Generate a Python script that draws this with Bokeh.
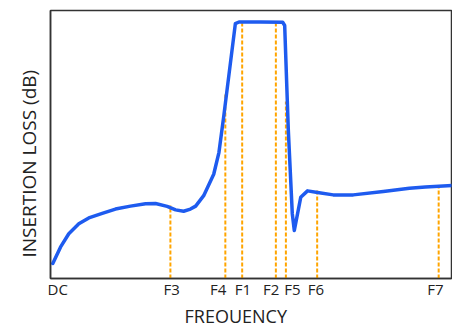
from bokeh.plotting import figure
from bokeh.models import Range1d, FixedTicker, Title
from bokeh.embed import file_html
from bokeh.resources import INLINE

# Insertion loss curve (frequency in arbitrary units 0-100, loss in arbitrary units 0-100)
freq = [0.57, 2.49, 4.56, 7.06, 9.55, 12.9, 16.2, 19.95, 23.7, 26.2, 29.1, 31.2,
        33.2, 34.9, 36.2, 38.2, 40.7, 42.0, 43.2, 46.1, 47.0, 52.4, 57.9, 58.4,
        59.3, 60.3, 60.8, 62.4, 64.1, 66.6, 70.5, 75.5, 83.0, 89.5, 93.5, 100.2]
loss = [5.6, 11.7, 16.7, 20.4, 22.6, 24.3, 25.9, 27.0, 27.9, 28.0, 26.9, 25.6,
        25.1, 25.9, 27.0, 30.9, 38.9, 47.0, 60.5, 95.1, 95.7, 95.7, 95.6, 94.4,
        55.6, 24.1, 17.9, 30.3, 32.7, 32.1, 31.2, 31.2, 32.5, 33.7, 34.1, 34.7]

# Marker frequencies (dashed lines) and their heights
marker_x = [29.9, 43.6, 47.8, 56.2, 58.7, 66.5, 96.8]
marker_top = [27.2, 69.3, 95.2, 95.2, 66.0, 33.0, 34.4]

# Tick labels
tick_pos = [1.8, 30.2, 41.8, 48.0, 55.0, 60.3, 66.2, 96.0]
tick_text = ["DC", "F3", "F4", "F1", "F2", "F5", "F6", "F7"]

x_title = "FREOUENCY"
y_title = "INSERTION LOSS (dB)"

FONT = "Open Sans"
TXT = "#222222"

p = figure(width=452, height=327, output_backend="svg", toolbar_location=None,
           x_range=Range1d(0, 100), y_range=Range1d(0, 100),
           min_border_left=50, min_border_right=1, min_border_top=10, min_border_bottom=47)
p.grid.visible = False
p.outline_line_color = "#333333"
p.outline_line_width = 1.5
p.background_fill_color = "white"
p.border_fill_color = "white"

p.segment(x0=marker_x, y0=[0] * len(marker_x), x1=marker_x, y1=marker_top,
          line_color="#FFA500", line_width=2, line_dash="4 2")
p.line(freq, loss, line_color="#1E5BEF", line_width=3.5, line_join="round", line_cap="round")

xa = p.xaxis[0]
xa.ticker = FixedTicker(ticks=tick_pos)
xa.major_label_overrides = {t: s for t, s in zip(tick_pos, tick_text)}
xa.major_tick_line_color = None
xa.minor_tick_line_color = None
xa.major_tick_out = 0
xa.major_tick_in = 0
xa.minor_tick_out = 0
xa.major_label_text_font = FONT
xa.major_label_text_font_size = "15px"
xa.major_label_text_color = TXT
xa.major_label_standoff = 0
xa.axis_line_color = "#333333"
xa.axis_line_width = 1.5

ya = p.yaxis[0]
ya.ticker = FixedTicker(ticks=[])
ya.major_tick_line_color = None
ya.minor_tick_line_color = None
ya.major_tick_out = 0
ya.major_tick_in = 0
ya.minor_tick_out = 0
ya.major_label_text_font_size = "0px"
ya.major_label_standoff = 0
ya.axis_line_color = "#333333"
ya.axis_line_width = 1.5

p.add_layout(Title(text=x_title, align="left", offset=134, text_font=FONT,
                   text_font_size="18px", text_font_style="normal", text_color=TXT,
                   standoff=0), "below")
p.add_layout(Title(text=y_title, align="left", offset=21, text_font=FONT,
                   text_font_size="19px", text_font_style="normal", text_color=TXT,
                   standoff=17), "left")

open("out.html", "w").write(file_html(p, INLINE))
